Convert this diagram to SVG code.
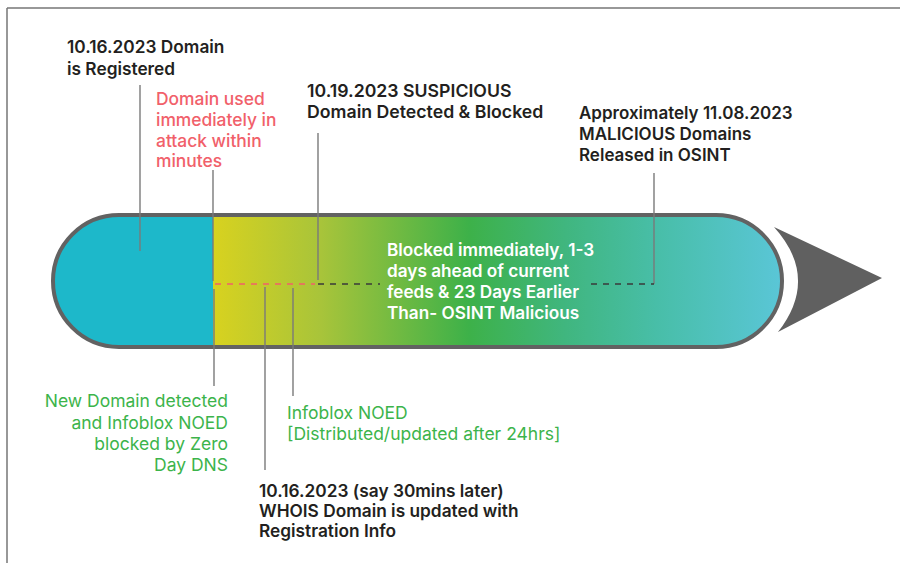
<svg xmlns="http://www.w3.org/2000/svg" width="900" height="563" viewBox="0 0 900 563">
<style>
text{font-family:Inter,"Liberation Sans",sans-serif;font-size:17px}
.blk{fill:#231f20;font-weight:600}
.red{fill:#f1606a;font-weight:500;font-size:17.4px}
.grn{fill:#3cb44b;font-weight:400;font-size:17.5px}
.wht{fill:#ffffff;font-weight:600;font-size:17.2px}
.s1{font-size:17.3px}
.s2{font-size:17.7px}
.ln{stroke:#7a7a7a;stroke-width:1.4;fill:none}
.dk{stroke:#3a3a3a;stroke-width:1.4;stroke-dasharray:6 6;fill:none}
.rd{stroke:#f1606a;stroke-width:1.4;stroke-dasharray:6 6;fill:none}
</style>
<defs>
<linearGradient id="g" gradientUnits="userSpaceOnUse" x1="213" y1="0" x2="782" y2="0">
<stop offset="0" stop-color="#d8d21f"/>
<stop offset="0.19" stop-color="#a8c43a"/>
<stop offset="0.45" stop-color="#3db149"/>
<stop offset="0.62" stop-color="#40b67f"/>
<stop offset="0.78" stop-color="#48bea8"/>
<stop offset="1" stop-color="#5ac6d7"/>
</linearGradient>
<clipPath id="pc"><rect x="53" y="215" width="729" height="132" rx="66"/></clipPath>
</defs>
<g id="frame"><path d="M7,8 H900 M7,8 V563" stroke="#777" stroke-width="1.5" fill="none"/></g>
<g id="timeline">
<g clip-path="url(#pc)">
<rect x="53" y="215" width="729" height="132" fill="url(#g)"/>
<rect x="53" y="215" width="160" height="132" fill="#1db8ca"/>
</g>
<rect x="53" y="215" width="729" height="132" rx="66" fill="none" stroke="#626262" stroke-width="4"/>
<path d="M774,227 Q820,278 778,332 L882,278 Z" fill="#606060"/>
</g>
<g id="connectors">
<line class="ln" x1="140" y1="85" x2="140" y2="251"/>
<line class="ln" x1="213" y1="170" x2="213" y2="281"/>
<line class="ln" x1="318" y1="133" x2="318" y2="280"/>
<line class="ln" x1="654" y1="173" x2="654" y2="284"/>
<line class="ln" x1="214" y1="289" x2="214" y2="386"/>
<line class="ln" x1="265" y1="287" x2="265" y2="470"/>
<line class="ln" x1="293" y1="288" x2="293" y2="396"/>
<line class="rd" x1="215" y1="284" x2="315" y2="284"/>
<line class="dk" x1="318" y1="284" x2="380" y2="284"/>
<line class="dk" x1="591" y1="284" x2="654" y2="284"/>
</g>
<g id="n-registered"><text class="blk s1" x="67" y="53">10.16.2023 Domain</text><text class="blk s1" x="67" y="75">is Registered</text></g>
<g id="n-attack"><text class="red" x="156" y="105">Domain used</text><text class="red" x="156" y="126">immediately in</text><text class="red" x="156" y="147">attack within</text><text class="red" x="156" y="167">minutes</text></g>
<g id="n-suspicious"><text class="blk s2" x="307" y="97">10.19.2023 SUSPICIOUS</text><text class="blk s2" x="307" y="118">Domain Detected &amp; Blocked</text></g>
<g id="n-osint"><text class="blk" x="579" y="119">Approximately 11.08.2023</text><text class="blk" x="579" y="140">MALICIOUS Domains</text><text class="blk" x="579" y="161">Released in OSINT</text></g>
<g id="n-blocked"><text class="wht" x="387" y="256">Blocked immediately, 1-3</text><text class="wht" x="387" y="277">days ahead of current</text><text class="wht" x="387" y="298">feeds &amp; 23 Days Earlier</text><text class="wht" x="387" y="319">Than- OSINT Malicious</text></g>
<g id="n-newdomain" text-anchor="end"><text class="grn" x="228" y="407">New Domain detected</text><text class="grn" x="228" y="429">and Infoblox NOED</text><text class="grn" x="228" y="450">blocked by Zero</text><text class="grn" x="228" y="471">Day DNS</text></g>
<g id="n-noed"><text class="grn" x="287" y="419">Infoblox NOED</text><text class="grn" x="287" y="440">[Distributed/updated after 24hrs]</text></g>
<g id="n-whois"><text class="blk s1" x="259" y="497">10.16.2023 (say 30mins later)</text><text class="blk s1" x="259" y="517">WHOIS Domain is updated with</text><text class="blk s1" x="259" y="537">Registration Info</text></g>
</svg>
